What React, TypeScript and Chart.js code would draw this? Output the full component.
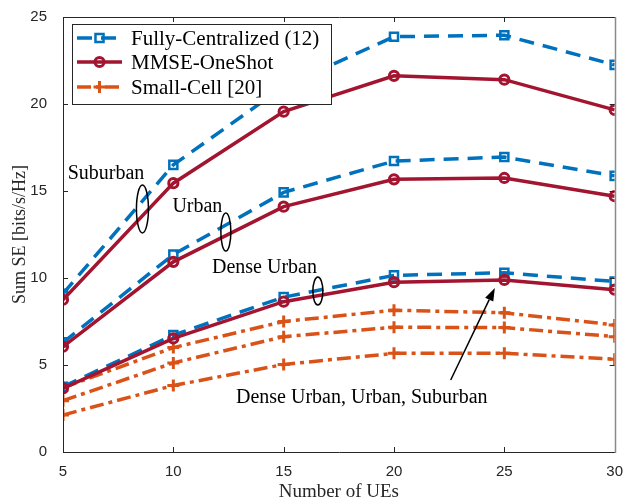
import React, { useEffect, useRef } from 'react';
import { Chart, registerables } from 'chart.js';

Chart.register(...registerables);

// ---- data ----
const ues = [5, 10, 15, 20, 25, 30];

const fcSuburban = [9.1, 16.5, 21.0, 23.87, 23.95, 22.25];
const fcUrban = [6.3, 11.35, 14.92, 16.72, 16.95, 15.87];
const fcDense = [3.75, 6.72, 8.9, 10.15, 10.3, 9.8];

const mmseSuburban = [8.75, 15.45, 19.56, 21.62, 21.4, 19.66];
const mmseUrban = [6.05, 10.93, 14.1, 15.67, 15.75, 14.7];
const mmseDense = [3.66, 6.53, 8.64, 9.76, 9.89, 9.33];

const scSuburban = [3.7, 6.0, 7.5, 8.15, 8.0, 7.3];
const scUrban = [2.95, 5.12, 6.63, 7.17, 7.15, 6.63];
const scDense = [2.13, 3.82, 5.03, 5.67, 5.67, 5.33];

const xTicks = [5, 10, 15, 20, 25, 30];
const yTicks = [0, 5, 10, 15, 20, 25];

const legendLabels = ['Fully-Centralized (12)', 'MMSE-OneShot', 'Small-Cell [20]'];

const areaLabels = ['Suburban', 'Urban', 'Dense Urban'];
const bottomLabel = 'Dense Urban, Urban, Suburban';

// ---- styles ----
const BLUE = '#0072BD';
const RED = '#A2142F';
const ORANGE = '#D95319';
const AXIS = '#262626';

const styleFC = { color: BLUE, dash: [15, 9], point: 'rect', radius: 5.7, pbw: 2.5 };
const styleMM = { color: RED, dash: [], point: 'circle', radius: 4.6, pbw: 3 };
const styleSC = { color: ORANGE, dash: [14, 5, 4, 5], point: 'cross', radius: 6, pbw: 3 };

function makeDataset(label: string, values: number[], st: any) {
  return {
    label,
    data: values.map((v, i) => ({ x: ues[i], y: v })),
    borderColor: st.color,
    backgroundColor: st.color,
    borderWidth: 3.5,
    borderDash: st.dash,
    pointStyle: st.point,
    pointRadius: st.radius,
    pointBorderWidth: st.pbw,
    pointBorderColor: st.color,
    pointBackgroundColor: 'rgba(0,0,0,0)',
    tension: 0,
    fill: false,
  };
}

// annotation positions (data units)
const annoText = [
  { text: areaLabels[0], x: 6.95, y: 15.98 },
  { text: areaLabels[1], x: 11.09, y: 14.08 },
  { text: areaLabels[2], x: 14.13, y: 10.57 },
  { text: bottomLabel, x: 18.54, y: 3.1 },
];
const annoEllipse = [
  { x: 8.6, y: 13.97, rx: 6, ry: 24 },
  { x: 12.38, y: 12.64, rx: 5, ry: 19 },
  { x: 16.55, y: 9.25, rx: 5, ry: 14 },
];
const arrow = { x1: 22.57, y1: 4.14, x2: 24.57, y2: 9.43 };

function drawMarker(ctx: CanvasRenderingContext2D, st: any, x: number, y: number) {
  ctx.save();
  ctx.setLineDash([]);
  ctx.strokeStyle = st.color;
  ctx.lineWidth = st.pbw;
  ctx.beginPath();
  if (st.point === 'rect') {
    const h = st.radius * Math.SQRT1_2;
    ctx.rect(x - h, y - h, 2 * h, 2 * h);
  } else if (st.point === 'circle') {
    ctx.arc(x, y, st.radius, 0, Math.PI * 2);
  } else {
    ctx.moveTo(x, y - st.radius);
    ctx.lineTo(x, y + st.radius);
    ctx.moveTo(x - st.radius, y);
    ctx.lineTo(x + st.radius, y);
  }
  ctx.stroke();
  ctx.restore();
}

const decorPlugin = {
  id: 'decor',
  afterDraw(chart: any) {
    const { ctx, chartArea } = chart;
    const { left, right, top, bottom } = chartArea;
    const xs = chart.scales.x;
    const ys = chart.scales.y;
    ctx.save();

    // inward ticks
    ctx.strokeStyle = AXIS;
    ctx.lineWidth = 1;
    ctx.beginPath();
    xTicks.forEach((t) => {
      const px = Math.round(xs.getPixelForValue(t)) + 0.5;
      ctx.moveTo(px, bottom);
      ctx.lineTo(px, bottom - 5);
      ctx.moveTo(px, top);
      ctx.lineTo(px, top + 5);
    });
    yTicks.forEach((t) => {
      const py = Math.round(ys.getPixelForValue(t)) + 0.5;
      ctx.moveTo(left, py);
      ctx.lineTo(left + 5, py);
      ctx.moveTo(right, py);
      ctx.lineTo(right - 5, py);
    });
    ctx.stroke();

    // frame
    ctx.beginPath();
    ctx.moveTo(Math.round(right) + 0.5, Math.round(top) + 0.5);
    ctx.lineTo(Math.round(left) + 0.5, Math.round(top) + 0.5);
    ctx.lineTo(Math.round(left) + 0.5, Math.round(bottom) + 0.5);
    ctx.lineTo(Math.round(right) + 0.5, Math.round(bottom) + 0.5);
    ctx.stroke();
    ctx.strokeStyle = '#8a8a8a';
    ctx.lineWidth = 1.5;
    ctx.beginPath();
    ctx.moveTo(Math.round(right) + 0.5, Math.round(top));
    ctx.lineTo(Math.round(right) + 0.5, Math.round(bottom) + 1);
    ctx.stroke();

    // annotations
    ctx.fillStyle = '#000';
    ctx.font = '20px "Liberation Serif"';
    ctx.textAlign = 'center';
    ctx.textBaseline = 'middle';
    annoText.forEach((a) => {
      ctx.fillText(a.text, xs.getPixelForValue(a.x), ys.getPixelForValue(a.y));
    });
    ctx.strokeStyle = '#000';
    ctx.lineWidth = 1.5;
    annoEllipse.forEach((e) => {
      ctx.beginPath();
      ctx.ellipse(xs.getPixelForValue(e.x), ys.getPixelForValue(e.y), e.rx, e.ry, 0, 0, Math.PI * 2);
      ctx.stroke();
    });
    // arrow
    const ax1 = xs.getPixelForValue(arrow.x1);
    const ay1 = ys.getPixelForValue(arrow.y1);
    const ax2 = xs.getPixelForValue(arrow.x2);
    const ay2 = ys.getPixelForValue(arrow.y2);
    const ang = Math.atan2(ay2 - ay1, ax2 - ax1);
    const hl = 13;
    const hw = 4.5;
    const bx = ax2 - hl * Math.cos(ang);
    const by = ay2 - hl * Math.sin(ang);
    ctx.beginPath();
    ctx.moveTo(ax1, ay1);
    ctx.lineTo(bx, by);
    ctx.stroke();
    ctx.beginPath();
    ctx.moveTo(ax2, ay2);
    ctx.lineTo(bx - hw * Math.sin(ang), by + hw * Math.cos(ang));
    ctx.lineTo(bx + hw * Math.sin(ang), by - hw * Math.cos(ang));
    ctx.closePath();
    ctx.fill();

    // legend
    const lx = 72.5, ly = 24.5, lw = 259, lh = 80;
    ctx.fillStyle = '#fff';
    ctx.fillRect(lx, ly, lw, lh);
    ctx.strokeStyle = AXIS;
    ctx.lineWidth = 1;
    ctx.strokeRect(lx, ly, lw, lh);
    const styles = [styleFC, styleMM, styleSC];
    const rows = [38, 62, 87];
    styles.forEach((st, i) => {
      const y = rows[i];
      ctx.save();
      ctx.strokeStyle = st.color;
      ctx.lineWidth = 3.5;
      ctx.setLineDash(st.dash);
      ctx.beginPath();
      ctx.moveTo(77, y);
      ctx.lineTo(122, y);
      ctx.stroke();
      ctx.restore();
      drawMarker(ctx, st, 99.5, y);
      ctx.fillStyle = '#000';
      ctx.font = '21px "Liberation Serif"';
      ctx.textAlign = 'left';
      ctx.textBaseline = 'middle';
      ctx.fillText(legendLabels[i], 131, y + 1);
    });

    ctx.restore();
  },
};

export default function App() {
  const ref = useRef<HTMLCanvasElement | null>(null);

  useEffect(() => {
    if (!ref.current) return;
    const chart = new Chart(ref.current, {
      type: 'line',
      data: {
        datasets: [
          makeDataset('MMSE-OneShot Suburban', mmseSuburban, styleMM),
          makeDataset('MMSE-OneShot Urban', mmseUrban, styleMM),
          makeDataset('MMSE-OneShot Dense Urban', mmseDense, styleMM),
          makeDataset('Fully-Centralized Suburban', fcSuburban, styleFC),
          makeDataset('Fully-Centralized Urban', fcUrban, styleFC),
          makeDataset('Fully-Centralized Dense Urban', fcDense, styleFC),
          makeDataset('Small-Cell Suburban', scSuburban, styleSC),
          makeDataset('Small-Cell Urban', scUrban, styleSC),
          makeDataset('Small-Cell Dense Urban', scDense, styleSC),
        ] as any,
      },
      options: {
        animation: false,
        responsive: false,
        maintainAspectRatio: false,
        layout: { padding: { top: 17, right: 11, left: 0, bottom: 0 } },
        plugins: {
          legend: { display: false },
          tooltip: { enabled: false },
        },
        scales: {
          x: {
            type: 'linear',
            min: 5,
            max: 30,
            afterBuildTicks: (s: any) => {
              s.ticks = xTicks.map((v) => ({ value: v }));
            },
            afterFit: (s: any) => {
              s.height = 52;
            },
            ticks: {
              font: { size: 15, family: '"Liberation Sans"' },
              color: AXIS,
              padding: 3,
              maxRotation: 0,
            },
            grid: { display: false },
            border: { display: false },
            title: {
              display: true,
              text: 'Number of UEs',
              font: { size: 19, family: '"Liberation Serif"' },
              color: AXIS,
              padding: { top: 0, bottom: 1 },
            },
          },
          y: {
            type: 'linear',
            min: 0,
            max: 25,
            afterBuildTicks: (s: any) => {
              s.ticks = yTicks.map((v) => ({ value: v }));
            },
            afterFit: (s: any) => {
              s.width = 63;
            },
            ticks: {
              font: { size: 15, family: '"Liberation Sans"' },
              color: AXIS,
              padding: 8,
            },
            grid: { display: false },
            border: { display: false },
            title: {
              display: true,
              text: 'Sum SE [bits/s/Hz]',
              font: { size: 18, family: '"Liberation Serif"' },
              color: AXIS,
              padding: { top: 9, bottom: 0 },
            },
          },
        },
      } as any,
      plugins: [decorPlugin],
    });
    return () => chart.destroy();
  }, []);

  return (
    <div style={{ position: 'absolute', left: 0, top: 0, width: 626, height: 504, background: '#fff' }}>
      <canvas ref={ref} width={626} height={504} />
    </div>
  );
}
